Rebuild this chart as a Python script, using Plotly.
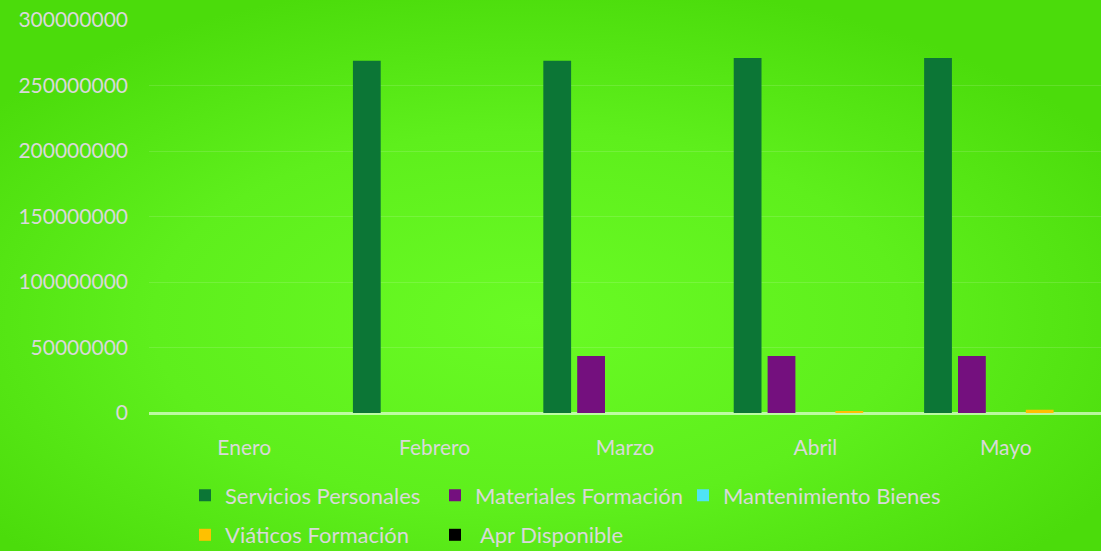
import base64
import plotly.graph_objects as go

months = ["Enero", "Febrero", "Marzo", "Abril", "Mayo"]
servicios_personales = [0, 268800000, 268800000, 271000000, 271000000]
materiales_formacion = [0, 0, 43600000, 43600000, 43600000]
mantenimiento_bienes = [0, 0, 0, 0, 0]
viaticos_formacion = [0, 0, 0, 1200000, 2500000]
apr_disponible = [0, 0, 0, 0, 0]
y_ticks = [0, 50000000, 100000000, 150000000, 200000000, 250000000, 300000000]

series = [
    ("Servicios Personales", servicios_personales, "#0c7636"),
    ("Materiales Formación", materiales_formacion, "#74107e"),
    ("Mantenimiento Bienes", mantenimiento_bienes, "#4fe3f5"),
    ("Viáticos Formación", viaticos_formacion, "#ffc000"),
    (" Apr Disponible", apr_disponible, "#000000"),
]
# legend placement (pixel anchors: left of entry, row center)
legend_pos = [(185, 495.5), (435, 495.5), (683, 495.5), (185, 535), (435, 535)]

FONT = "Lato, 'Open Sans', sans-serif"
TXT = "#d9d9d9"
L, T, PW, PH = 149, 20, 952, 393

fig = go.Figure()
for i, (name, vals, color) in enumerate(series):
    lg = "legend" if i == 0 else f"legend{i+1}"
    fig.add_trace(go.Bar(x=months, y=vals, name=name, marker_color=color,
                         marker_line_width=0, legend=lg, showlegend=True))

svg = """<svg xmlns='http://www.w3.org/2000/svg' width='1101' height='551'>
<defs><radialGradient id='g' cx='48%' cy='58%' r='62%'>
<stop offset='0%' stop-color='#69fb24'/>
<stop offset='55%' stop-color='#5eef1c'/>
<stop offset='100%' stop-color='#4bdc0b'/>
</radialGradient></defs>
<rect width='1101' height='551' fill='url(#g)'/></svg>"""
src = "data:image/svg+xml;base64," + base64.b64encode(svg.encode()).decode()

legends = {}
for i, (px, py) in enumerate(legend_pos):
    key = "legend" if i == 0 else f"legend{i+1}"
    legends[key] = dict(orientation="h", x=(px - L) / PW, y=-(py - (T + PH)) / PH,
                        xanchor="left", yanchor="middle",
                        font=dict(family=FONT, size=22, color=TXT),
                        bgcolor="rgba(0,0,0,0)")

fig.update_layout(
    width=1101, height=551,
    showlegend=True,
    margin=dict(l=L, r=1101 - L - PW, t=T, b=551 - T - PH, autoexpand=False),
    paper_bgcolor="#5aeb1a",
    plot_bgcolor="rgba(0,0,0,0)",
    barmode="group",
    bargap=0.11,
    bargroupgap=0.18,
    font=dict(family=FONT, size=21, color=TXT),
    images=[dict(source=src, xref="paper", yref="paper", x=-L/PW, y=1+T/PH,
                 sizex=1101/PW, sizey=551/PH, xanchor="left", yanchor="top",
                 sizing="stretch", layer="below")],
    xaxis=dict(showgrid=False, showline=False, ticks="", ticklabelstandoff=20,
               tickfont=dict(family=FONT, size=21, color=TXT)),
    yaxis=dict(range=[0, 300000000], tickvals=y_ticks,
               ticktext=[str(v) for v in y_ticks],
               showgrid=True, gridcolor="rgba(255,255,255,0.13)", gridwidth=1,
               zeroline=True, zerolinecolor="rgba(230,255,220,0.7)", zerolinewidth=2.5,
               showline=False, ticks="", ticklabelstandoff=20,
               tickfont=dict(family=FONT, size=21, color=TXT)),
    **legends,
)

fig.write_html("out.html", config={"displayModeBar": False},
               post_script="document.body.style.margin='0';document.body.style.overflow='hidden';")
